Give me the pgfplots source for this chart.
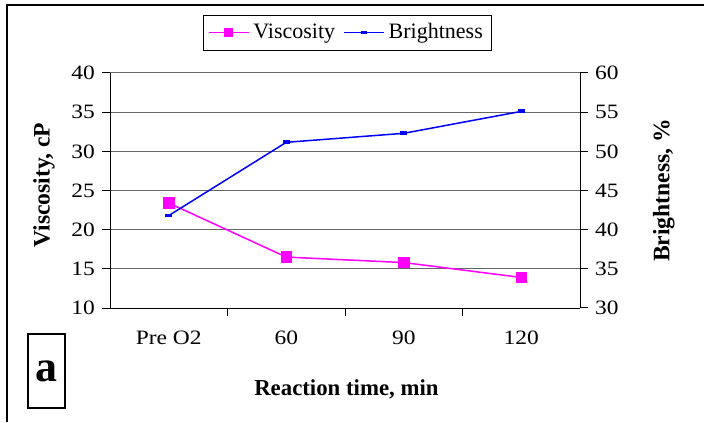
\documentclass[border=0pt]{standalone}
\usepackage{pgfplots}
\pgfplotsset{compat=1.18}
\usepackage{fontspec}
\setmainfont{Liberation Serif}
\newfontfamily\tickfont{Liberation Serif}[FakeStretch=1.15]
\definecolor{vcol}{RGB}{255,0,255}
\definecolor{bcol}{RGB}{0,0,255}
\begin{document}
\begin{tikzpicture}
\useasboundingbox (0,0) rectangle (352pt,211pt);
\draw[line width=0.6pt] (3.5pt,0) -- (3.5pt,208.5pt) -- (352pt,208.5pt);
\pgfplotsset{
  common/.style={
    at={(55pt,57pt)}, anchor=south west, scale only axis,
    width=235pt, height=117.5pt,
    xmin=-0.5, xmax=3.5,
    tick align=outside, major tick length=4pt, minor tick length=4pt,
    axis line style={-, line width=0.5pt},
    tick style={black, line width=0.5pt},
    ticklabel style={font=\fontsize{10.2}{11}\tickfont},
    /pgf/number format/assume math mode=true,
  }
}
\begin{axis}[common,
  ymin=10, ymax=40, ytick={10,15,...,40},
  xtick={0,1,2,3}, xticklabels={Pre O2,60,90,120},
  minor xtick={0.5,1.5,2.5},
  major x tick style={draw=none},
  axis x line*=bottom, axis y line*=left,
  ymajorgrids, grid style={black!60, line width=0.5pt},
  xticklabel style={anchor=base, yshift=-14pt},
  xlabel={Reaction time, min},
  ylabel={Viscosity, cP},
  every axis x label/.style={at={(axis description cs:0.503,-0.373)}, anchor=base, font=\fontsize{11.4}{14}\bfseries\selectfont},
  every axis y label/.style={at={(axis description cs:-0.1404,0.523)}, anchor=center, rotate=90, font=\fontsize{11.8}{14}\bfseries\selectfont},
]
\addplot[vcol, line width=0.75pt, mark=square*, mark size=2.5pt] coordinates {(0,23.4) (1,16.5) (2,15.8) (3,13.9)};
\end{axis}
\begin{axis}[common,
  ymin=30, ymax=60, ytick={30,35,...,60},
  axis x line=none, axis y line*=right,
  ylabel={Brightness, \%},
  every axis y label/.style={at={(axis description cs:1.178,0.5)}, anchor=center, rotate=90, font=\fontsize{11.8}{14}\bfseries\selectfont},
  legend columns=2,
  legend style={at={(0.505,1.172)}, anchor=center, draw=black, line width=0.5pt,
    font=\fontsize{11}{12}\selectfont, inner sep=2.2pt,
    /tikz/every even column/.append style={column sep=2pt}},
  legend image code/.code={\draw[mark repeat=2,mark phase=2] plot coordinates {(0pt,0pt) (10pt,0pt) (20pt,0pt)};},
]
\addlegendimage{vcol, line width=0.75pt, mark=square*, mark size=2pt}
\addlegendentry{Viscosity}
\addplot[bcol, line width=0.75pt, mark=square*, mark size=1.3pt, mark options={yscale=0.45}] coordinates {(0,41.8) (1,51.15) (2,52.3) (3,55.1)};
\addlegendentry{Brightness}
\end{axis}
\draw[line width=1pt] (14pt,7pt) rectangle (32.5pt,44pt);
\node[font=\fontsize{22}{24}\bfseries\selectfont] at (23.25pt,25.5pt) {a};
\end{tikzpicture}
\end{document}
